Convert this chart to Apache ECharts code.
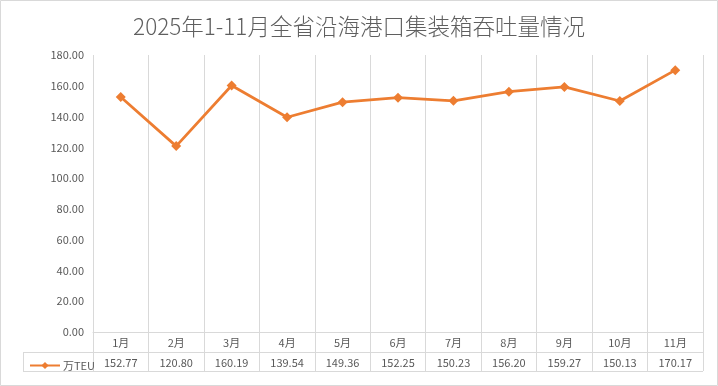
<!DOCTYPE html>
<html><head><meta charset="utf-8">
<script src="https://cdn.jsdelivr.net/npm/echarts@6/dist/echarts.min.js"></script>
<style>html,body{margin:0;padding:0;background:#fff}#c{width:718px;height:386px}</style>
</head><body><div id="c"></div>
<script>
const categories = ['1月','2月','3月','4月','5月','6月','7月','8月','9月','10月','11月'];
const values = [152.77,120.80,160.19,139.54,149.36,152.25,150.23,156.20,159.27,150.13,170.17];
const seriesName = '万TEU';
const titleText = '2025年1-11月全省沿海港口集装箱吞吐量情况';
const yTicks = {min:0, max:180, interval:20};

const grey = '#d9d9d9', txt = '#595959', orange = '#ED7D31';
const font = '"Microsoft YaHei","Noto Sans CJK SC",sans-serif';
const chart = echarts.init(document.getElementById('c'));
chart.setOption({
  animation:false,
  title:{text:titleText,left:'center',top:10,textStyle:{fontSize:22.5,fontWeight:300,color:'#5f5f5f',fontFamily:'"Noto Sans CJK SC",sans-serif'}},
  legend:{left:24,top:355,itemWidth:30,itemHeight:9,itemGap:4,data:[seriesName],
    textStyle:{fontSize:11,color:txt,fontFamily:font,padding:[0,0,0,-2]}},
  grid:{left:93,right:15,top:55,bottom:54,containLabel:false},
  xAxis:[{type:'category',data:categories,boundaryGap:true,
    axisLine:{lineStyle:{color:grey}},
    axisTick:{show:true,length:39,lineStyle:{color:grey}},
    splitLine:{show:true,lineStyle:{color:grey}},
    axisLabel:{color:txt,fontSize:11,margin:5,fontFamily:font}},
   {type:'category',data:values.map(v=>v.toFixed(2)),position:'bottom',offset:20,boundaryGap:true,
    axisLine:{show:false},axisTick:{show:false},
    axisLabel:{color:txt,fontSize:11,margin:5,fontFamily:font}}],
  yAxis:{type:'value',min:yTicks.min,max:yTicks.max,interval:yTicks.interval,
    axisLine:{show:false},axisTick:{show:false},splitLine:{show:false},
    axisLabel:{color:txt,fontSize:11,margin:9,fontFamily:font,formatter:v=>v.toFixed(2)}},
  series:[{name:seriesName,type:'line',data:values,symbol:'diamond',symbolSize:10,
    lineStyle:{color:orange,width:2.75},itemStyle:{color:orange}}],
  graphic:[
    {type:'rect',shape:{x:0.5,y:0.5,width:717,height:385},style:{fill:'none',stroke:grey},silent:true},
    {type:'line',shape:{x1:23,y1:352.5,x2:703,y2:352.5},style:{stroke:grey}},
    {type:'line',shape:{x1:23,y1:371.5,x2:703,y2:371.5},style:{stroke:grey}},
    {type:'line',shape:{x1:23.5,y1:352,x2:23.5,y2:372},style:{stroke:grey}}
  ]
});
</script></body></html>
